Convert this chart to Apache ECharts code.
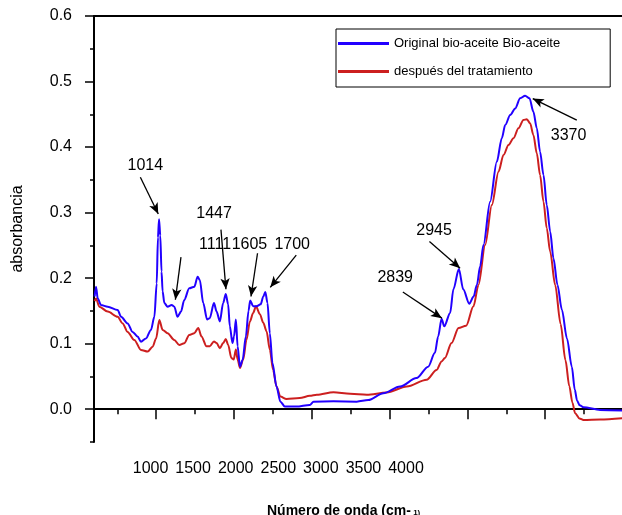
<!DOCTYPE html>
<html>
<head>
<meta charset="utf-8">
<script src="https://cdn.jsdelivr.net/npm/echarts@6/dist/echarts.min.js"></script>
<style>
  html, body { margin: 0; padding: 0; background: #fff; }
  #chart { width: 622px; height: 515px; }
</style>
</head>
<body>
<div id="chart"></div>
<script>
// wavenumber (cm-1) and absorbance
const waveBlue = [604, 613, 624, 645, 688, 752, 774, 816, 848, 880, 902, 934, 966, 988, 1003, 1011, 1018, 1026, 1034, 1041, 1052, 1073, 1099, 1116, 1137, 1159, 1180, 1212, 1245, 1266, 1280, 1302, 1327, 1344, 1371, 1388, 1409, 1430, 1447, 1462, 1473, 1490, 1500, 1512, 1523, 1538, 1555, 1576, 1593, 1604, 1623, 1644, 1671, 1688, 1701, 1715, 1730, 1747, 1773, 1798, 1827, 1901, 1987, 2011, 2139, 2289, 2363, 2460, 2567, 2673, 2748, 2791, 2812, 2834, 2851, 2889, 2910, 2945, 2973, 3012, 3040, 3061, 3082, 3103, 3146, 3189, 3221, 3243, 3275, 3307, 3339, 3371, 3399, 3424, 3446, 3467, 3489, 3510, 3532, 3553, 3579, 3607, 3640, 3671, 3690, 3705, 3722, 3746, 3853, 4000];
const absBlue = [0.172, 0.187, 0.169, 0.159, 0.1565, 0.1515, 0.141, 0.131, 0.118, 0.111, 0.103, 0.108, 0.121, 0.141, 0.192, 0.262, 0.290, 0.265, 0.210, 0.180, 0.162, 0.1565, 0.159, 0.1565, 0.141, 0.149, 0.1667, 0.1846, 0.187, 0.2023, 0.197, 0.162, 0.137, 0.139, 0.162, 0.149, 0.134, 0.162, 0.176, 0.160, 0.1265, 0.101, 0.111, 0.137, 0.096, 0.065, 0.075, 0.111, 0.150, 0.166, 0.157, 0.157, 0.160, 0.172, 0.179, 0.162, 0.116, 0.0704, 0.0346, 0.0116, 0.004, 0.004, 0.0066, 0.0116, 0.012, 0.0116, 0.014, 0.0245, 0.0346, 0.0475, 0.065, 0.086, 0.111, 0.138, 0.1265, 0.147, 0.183, 0.214, 0.183, 0.161, 0.172, 0.190, 0.218, 0.2507, 0.3167, 0.3777, 0.4134, 0.4337, 0.449, 0.459, 0.4745, 0.4784, 0.4745, 0.454, 0.4287, 0.393, 0.3574, 0.3117, 0.271, 0.2303, 0.1896, 0.152, 0.108, 0.065, 0.030, 0.013, 0.006, 0.003, -0.001, -0.002];

const waveRed = [604, 613, 634, 688, 752, 784, 816, 859, 902, 945, 977, 999, 1020, 1041, 1073, 1116, 1148, 1180, 1212, 1245, 1270, 1291, 1323, 1344, 1371, 1388, 1409, 1430, 1447, 1462, 1483, 1498, 1512, 1523, 1538, 1559, 1580, 1602, 1623, 1641, 1666, 1688, 1709, 1730, 1751, 1773, 1798, 1837, 1922, 1987, 2032, 2139, 2246, 2353, 2481, 2610, 2738, 2802, 2834, 2855, 2898, 2943, 2992, 3039, 3071, 3114, 3157, 3200, 3232, 3264, 3296, 3328, 3360, 3382, 3403, 3424, 3446, 3467, 3489, 3510, 3532, 3564, 3599, 3630, 3655, 3675, 3692, 3720, 3746, 3853, 4000];
const absRed = [0.165, 0.169, 0.1565, 0.149, 0.141, 0.131, 0.118, 0.1057, 0.0905, 0.0879, 0.0955, 0.108, 0.136, 0.121, 0.116, 0.1057, 0.098, 0.1007, 0.1133, 0.116, 0.124, 0.111, 0.096, 0.096, 0.1035, 0.101, 0.093, 0.101, 0.107, 0.0985, 0.078, 0.076, 0.091, 0.076, 0.063, 0.076, 0.106, 0.134, 0.147, 0.157, 0.145, 0.132, 0.119, 0.091, 0.060, 0.0346, 0.0193, 0.0155, 0.017, 0.0204, 0.022, 0.026, 0.0235, 0.022, 0.0255, 0.0346, 0.045, 0.060, 0.073, 0.078, 0.101, 0.124, 0.1275, 0.157, 0.1896, 0.2507, 0.3117, 0.3625, 0.388, 0.4032, 0.4134, 0.4287, 0.4413, 0.4424, 0.4363, 0.4185, 0.3905, 0.3574, 0.3167, 0.2761, 0.2404, 0.1896, 0.130, 0.075, 0.035, 0.010, -0.006, -0.014, -0.0164, -0.0158, -0.0138];

const seriesNames = ['Original bio-aceite Bio-aceite', 'después del tratamiento'];

// bottom tick labels as printed in the figure
const tickLabels = ['1000', '1500', '2000', '2500', '3000', '3500', '4000'];
const majorTicksX = [1000, 1500, 2000, 2500, 3000, 3500];
const minorTicksX = [750, 1250, 1750, 2250, 2750, 3250, 3750];
const majorTicksY = [0, 0.1, 0.2, 0.3, 0.4, 0.5, 0.6];
const minorTicksY = [-0.05, 0.05, 0.15, 0.25, 0.35, 0.45, 0.55];

// peak notes: text, text x/y, arrow from x/y, arrow to x/y (data units)
const notes = [
  ['1014', 930, 0.371, 898, 0.354, 1013, 0.298],
  ['1447', 1372, 0.298, 1416, 0.274, 1448, 0.183],
  ['1111', 1378, 0.251, 1159, 0.232, 1123, 0.167],
  ['1605', 1599, 0.251, 1651, 0.238, 1609, 0.172],
  ['1700', 1874, 0.251, 1900, 0.235, 1733, 0.186],
  ['2839', 2536, 0.201, 2585, 0.179, 2836, 0.139],
  ['2945', 2786, 0.272, 2756, 0.256, 2953, 0.215],
  ['3370', 3650, 0.418, 3703, 0.441, 3420, 0.474]
];

const font = 'Liberation Sans, Arial, sans-serif';
const chart = echarts.init(document.getElementById('chart'));

const zip = (xs, ys) => xs.map((x, i) => [x, ys[i]]);

const option = {
  animation: false,
  backgroundColor: '#fff',
  textStyle: { fontFamily: font, color: '#000' },
  grid: { left: 94, top: 16, width: 529, height: 426, containLabel: false, outerBoundsMode: 'none' },
  title: {
    left: 262, top: 499,
    text: '{a|Número de onda (cm-}{b| 1)}',
    textStyle: {
      rich: {
        a: { fontFamily: font, fontSize: 14, fontWeight: 'bold', color: '#000' },
        b: { fontFamily: font, fontSize: 8, color: '#000', padding: [4, 0, 0, 0] }
      }
    }
  },
  legend: {
    data: seriesNames,
    left: 336, top: 29,
    orient: 'vertical',
    icon: 'rect',
    itemWidth: 51, itemHeight: 3, itemGap: 9,
    padding: [5, 50, 6, 2],
    borderColor: '#000', borderWidth: 1,
    textStyle: { fontFamily: font, fontSize: 13, lineHeight: 13, padding: [6, 0, 0, 0], color: '#000' }
  },
  xAxis: [
    {
      type: 'value', min: 600, max: 4000, position: 'bottom',
      axisLine: { lineStyle: { color: '#000', width: 2 } },
      axisTick: { customValues: majorTicksX, length: 10, lineStyle: { color: '#000', width: 1.5 } },
      axisLabel: { show: false },
      splitLine: { show: false }
    },
    {
      type: 'value', min: 600, max: 4000, position: 'bottom',
      axisLine: { show: false },
      axisTick: { customValues: minorTicksX, length: 5, lineStyle: { color: '#000', width: 1.5 } },
      axisLabel: { show: false },
      splitLine: { show: false }
    },
    {
      // label scale of the printed figure, not aligned with the data
      type: 'value', min: 336, max: 6548, position: 'bottom',
      axisLine: { show: false },
      axisTick: { show: false },
      axisLabel: {
        customValues: tickLabels.map(Number),
        formatter: v => String(v),
        margin: 19, fontSize: 16, fontFamily: font, color: '#000'
      },
      splitLine: { show: false }
    },
    {
      type: 'value', min: 600, max: 4000, position: 'top',
      axisLine: { lineStyle: { color: '#000', width: 2 } },
      axisTick: { show: false }, axisLabel: { show: false },
      splitLine: { show: false }
    }
  ],
  yAxis: [
    {
      type: 'value', min: -0.05, max: 0.6, position: 'left',
      name: 'absorbancia', nameLocation: 'middle', nameGap: 68, nameRotate: 90,
      nameTextStyle: { fontSize: 16, fontFamily: font, color: '#000' },
      axisLine: { lineStyle: { color: '#000', width: 2 } },
      axisTick: { customValues: majorTicksY, length: 9, lineStyle: { color: '#000', width: 1.5 } },
      axisLabel: {
        customValues: majorTicksY,
        formatter: v => v.toFixed(1),
        margin: 22, fontSize: 16, fontFamily: font, color: '#000'
      },
      splitLine: { show: false }
    },
    {
      type: 'value', min: -0.05, max: 0.6, position: 'left',
      axisLine: { show: false },
      axisTick: { customValues: minorTicksY, length: 4, lineStyle: { color: '#000', width: 1.5 } },
      axisLabel: { show: false },
      splitLine: { show: false }
    }
  ],
  series: [
    {
      name: seriesNames[0], type: 'line', xAxisIndex: 0, yAxisIndex: 0,
      data: zip(waveBlue, absBlue),
      showSymbol: false, smooth: 0.3, smoothMonotone: 'x',
      itemStyle: { color: '#2200ff' },
      lineStyle: { color: '#2200ff', width: 2 },
      z: 3
    },
    {
      name: seriesNames[1], type: 'line', xAxisIndex: 0, yAxisIndex: 0,
      data: zip(waveRed, absRed),
      showSymbol: false, smooth: 0.3, smoothMonotone: 'x',
      itemStyle: { color: '#cc1f1f' },
      lineStyle: { color: '#cc1f1f', width: 2 },
      z: 2
    },
    {
      name: 'notes', type: 'line', xAxisIndex: 0, yAxisIndex: 0,
      data: [], silent: true, z: 5,
      markLine: {
        silent: true, animation: false,
        symbol: ['none', 'arrow'], symbolSize: [7, 11],
        label: { show: false },
        lineStyle: { color: '#000', width: 1.3, type: 'solid' },
        data: notes.map(n => [{ coord: [n[3], n[4]] }, { coord: [n[5], n[6]] }])
      },
      markPoint: {
        silent: true, animation: false,
        symbol: 'circle', symbolSize: 0,
        label: { show: true, position: 'inside', formatter: '{b}', fontSize: 16, fontFamily: font, color: '#000' },
        data: notes.map(n => ({ name: n[0], coord: [n[1], n[2]] }))
      }
    }
  ]
};

chart.setOption(option);
window.addEventListener('resize', () => chart.resize());
</script>
</body>
</html>
